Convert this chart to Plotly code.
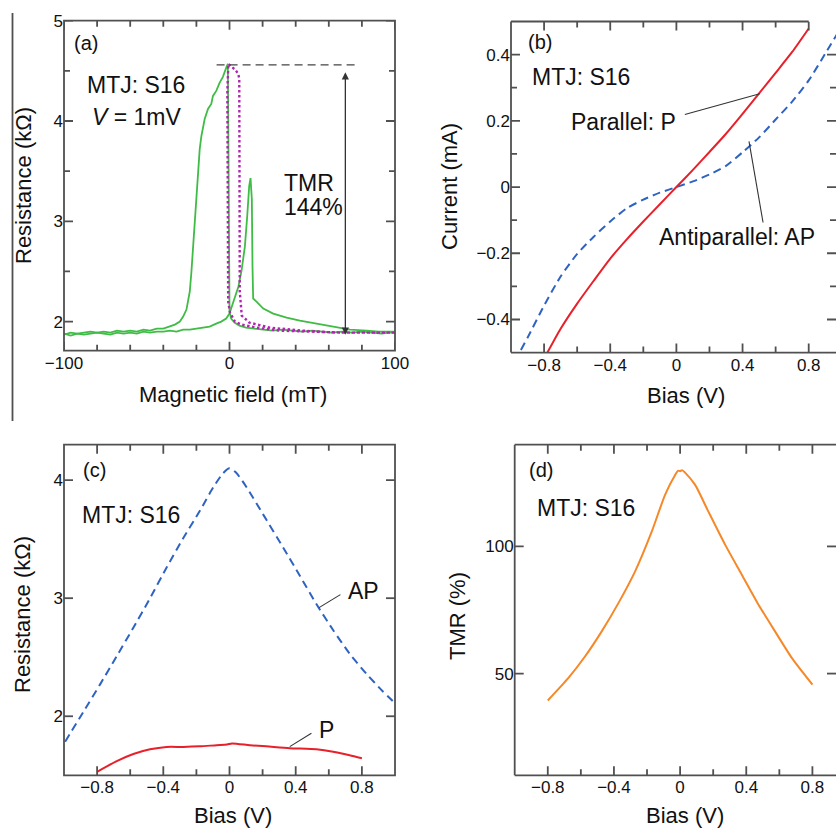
import numpy as np
import plotly.graph_objects as go

W, H = 836, 828
FONT = "Liberation Sans, Arial, Helvetica, sans-serif"
FRAME = "#505050"
INK = "#111111"

GREEN = "#3fbc45"
MAGENTA = "#b026b0"
RED = "#e8202a"
BLUE = "#2f63c2"
ORANGE = "#f5892a"

# ---- (a) R-H loop of MTJ S16 at V = 1 mV ----
field_up = [-100, -96, -92, -88, -84, -80, -76, -72, -68, -64, -60, -56, -52, -48, -44,
            -40, -36, -33, -30, -28, -26, -25, -24, -23, -22, -21, -20, -19, -18, -17,
            -15, -13, -11, -10, -8, -6, -4, -2, -1, -0.6, -0.3, 0, 1, 3, 6, 10, 15, 20,
            26, 32, 38, 44, 50, 56, 62, 68, 74, 80, 86, 92, 96, 100]
r_up = [1.87, 1.89, 1.88, 1.89, 1.90, 1.89, 1.90, 1.89, 1.91, 1.90, 1.91, 1.90, 1.92, 1.91, 1.93,
        1.93, 1.95, 1.97, 2.00, 2.05, 2.12, 2.20, 2.30, 2.50, 2.75, 3.00, 3.25, 3.50, 3.72, 3.85,
        4.02, 4.12, 4.17, 4.25, 4.30, 4.38, 4.44, 4.53, 4.57, 3.60, 2.60, 2.10, 2.03, 1.99, 1.96, 1.94, 1.93, 1.92,
        1.91, 1.92, 1.91, 1.90, 1.91, 1.90, 1.89, 1.90, 1.89, 1.90, 1.89, 1.88, 1.89, 1.89]

field_down = [-100, -96, -92, -88, -84, -80, -76, -72, -68, -64, -60, -56, -52, -48, -44,
              -40, -36, -32, -28, -24, -20, -16, -12, -8, -5, -2, 0, 2.4, 5.4, 7.3,
              9.3, 10.7, 11.9, 12.7, 13.5, 13.9, 14.3, 16.3, 20.4, 26.4, 34.5, 42.5, 52.6, 62.7,
              72.8, 82.9, 90, 100]
r_down = [1.88, 1.86, 1.88, 1.87, 1.88, 1.89, 1.88, 1.87, 1.89, 1.88, 1.89, 1.88, 1.90, 1.89, 1.90,
          1.90, 1.91, 1.90, 1.92, 1.92, 1.93, 1.94, 1.95, 1.98, 2.00, 2.03, 2.08, 2.20, 2.35, 2.51,
          2.75, 3.05, 3.35, 3.43, 3.22, 2.55, 2.23, 2.20, 2.13, 2.08, 2.04, 2.01, 1.98, 1.95,
          1.92, 1.91, 1.90, 1.90]

field_minor = [100, 85, 65, 44, 24.5, 12, 7.4, 6.2, 5.9, 5.9, 5.3, 3.5, 1.3, -0.7, -1.3, -1.2,
               -0.8, 0.3, 3.3, 7.4, 16.4, 30, 50, 70, 100]
r_minor = [1.89, 1.89, 1.89, 1.91, 1.94, 1.99, 2.06, 2.30, 3.50, 4.42, 4.47, 4.51, 4.54, 4.57, 4.30, 3.00,
           2.20, 2.09, 2.00, 1.97, 1.94, 1.91, 1.90, 1.89, 1.89]

r_ap_peak = 4.56   # kOhm, antiparallel level
r_p_base = 1.87    # kOhm, parallel level
arrow_field = 70   # mT
tmr_pct = round((r_ap_peak - r_p_base) / r_p_base * 100)

# ---- (b) I-V curves ----
bias_p = [-0.78, -0.7, -0.6, -0.5, -0.4, -0.3, -0.2, -0.1, 0, 0.1, 0.2, 0.3, 0.4, 0.5, 0.6, 0.7, 0.8]
current_p = [-0.500, -0.428, -0.352, -0.283, -0.216, -0.158, -0.104, -0.052, 0.0, 0.052, 0.106,
             0.161, 0.221, 0.283, 0.345, 0.408, 0.479]

bias_ap = [-0.94, -0.9, -0.8, -0.7, -0.6, -0.5, -0.4, -0.3, -0.2, -0.1, 0,
           0.1, 0.2, 0.3, 0.4, 0.5, 0.6, 0.7, 0.8, 0.9, 0.975]
current_ap = [-0.492, -0.455, -0.358, -0.270, -0.202, -0.150, -0.104, -0.064, -0.038, -0.017, 0.0,
              0.017, 0.038, 0.064, 0.105, 0.150, 0.204, 0.258, 0.322, 0.403, 0.465]

# ---- (c) R-V curves ----
bias_r_ap = [-0.993, -0.882, -0.782, -0.681, -0.581, -0.480, -0.380, -0.279, -0.179, -0.098, -0.038, 0,
             0.042, 0.103, 0.203, 0.324, 0.425, 0.525, 0.626, 0.726, 0.827, 0.927, 1.0]
res_ap = [1.785, 2.04, 2.27, 2.51, 2.75, 3.00, 3.26, 3.51, 3.74, 3.94, 4.06, 4.10,
          4.06, 3.94, 3.71, 3.43, 3.19, 2.95, 2.73, 2.53, 2.36, 2.21, 2.11]

bias_r_p = [-0.8, -0.681, -0.581, -0.480, -0.380, -0.279, -0.179, -0.078, -0.015, 0.015, 0.123,
            0.223, 0.364, 0.525, 0.626, 0.726, 0.8]
res_p = [1.53, 1.62, 1.68, 1.72, 1.74, 1.74, 1.745, 1.755, 1.76, 1.77, 1.755,
         1.745, 1.73, 1.72, 1.70, 1.67, 1.645]

# ---- (d) TMR vs bias ----
bias_tmr = [-0.8, -0.675, -0.574, -0.474, -0.373, -0.272, -0.171, -0.091, -0.030, -0.012, 0,
            0.012, 0.030, 0.091, 0.171, 0.272, 0.373, 0.474, 0.574, 0.675, 0.8]
tmr = [39.4, 48.3, 56.8, 66.6, 77.7, 90.2, 105.9, 120.3, 128.1, 129.8, 129.6,
       130.0, 129.0, 124.2, 113.7, 100.7, 88.9, 77.1, 66.6, 56.2, 45.7]


def fx(px):
    return px / W


def fy(py):
    return 1 - py / H


def steps(lo, hi, step):
    return [round(v, 6) for v in np.arange(lo, hi + step / 2, step)]


bias_major = steps(-0.8, 0.8, 0.4)
bias_minor = steps(-0.6, 0.6, 0.4)

# Panel frames in pixels (left, right, top, bottom), axis ranges and tick positions.
panels = {
    "a": dict(xa="x", ya="y", box=(64, 395, 20.7, 350.7), xr=[-100, 100], yr=[1.71, 5],
              xdt=100, ydt=1, xmaj=steps(-100, 100, 100),
              xmin=[v for v in steps(-80, 80, 20) if v != 0],
              ymaj=steps(2, 5, 1), ymin=steps(2.5, 4.5, 1)),
    "b": dict(xa="x2", ya="y2", box=(511, 836, 21.5, 352.6), xr=[-1, 0.965], yr=[-0.5, 0.5],
              xdt=0.4, ydt=0.2, xmaj=bias_major, xmin=bias_minor,
              ymaj=steps(-0.4, 0.4, 0.2), ymin=steps(-0.3, 0.3, 0.2)),
    "c": dict(xa="x3", ya="y3", box=(64, 395, 444.7, 775.3), xr=[-1, 1], yr=[1.5, 4.3],
              xdt=0.4, ydt=1, xmaj=bias_major, xmin=bias_minor,
              ymaj=steps(2, 4, 1), ymin=[]),
    "d": dict(xa="x4", ya="y4", box=(514.7, 836, 444.7, 775.3), xr=[-1, 0.9426], yr=[10, 140],
              xdt=0.4, ydt=50, xmaj=bias_major, xmin=bias_minor,
              ymaj=steps(50, 100, 50), ymin=[]),
}

fig = go.Figure()

fig.add_trace(go.Scatter(x=field_up, y=r_up, mode="lines", xaxis="x", yaxis="y",
                         line=dict(color=GREEN, width=1.8)))
fig.add_trace(go.Scatter(x=field_down, y=r_down, mode="lines", xaxis="x", yaxis="y",
                         line=dict(color=GREEN, width=1.8)))
fig.add_trace(go.Scatter(x=field_minor, y=r_minor, mode="lines", xaxis="x", yaxis="y",
                         line=dict(color=MAGENTA, width=2.4, dash="2.5px,2.5px")))

smooth = dict(shape="spline", smoothing=0.6)
fig.add_trace(go.Scatter(x=bias_ap, y=current_ap, mode="lines", xaxis="x2", yaxis="y2",
                         line=dict(color=BLUE, width=2, dash="8px,5px", **smooth)))
fig.add_trace(go.Scatter(x=bias_p, y=current_p, mode="lines", xaxis="x2", yaxis="y2",
                         line=dict(color=RED, width=2, **smooth)))

fig.add_trace(go.Scatter(x=bias_r_ap, y=res_ap, mode="lines", xaxis="x3", yaxis="y3",
                         line=dict(color=BLUE, width=2, dash="8px,5px", **smooth)))
fig.add_trace(go.Scatter(x=bias_r_p, y=res_p, mode="lines", xaxis="x3", yaxis="y3",
                         line=dict(color=RED, width=2, **smooth)))

fig.add_trace(go.Scatter(x=bias_tmr, y=tmr, mode="lines", xaxis="x4", yaxis="y4",
                         line=dict(color=ORANGE, width=2, **smooth)))

# Inward tick marks on all four sides, as one line trace per panel.
MAJOR_LEN, MINOR_LEN = 9, 6
for key, p in panels.items():
    left, right, top, bottom = p["box"]
    x0, x1 = p["xr"]
    y0, y1 = p["yr"]
    per_px_x = (x1 - x0) / (right - left)
    per_px_y = (y1 - y0) / (bottom - top)
    xs, ys = [], []
    for vals, length in ((p["xmaj"], MAJOR_LEN), (p["xmin"], MINOR_LEN)):
        dy = length * per_px_y
        for v in vals:
            xs += [v, v, None, v, v, None]
            ys += [y0, y0 + dy, None, y1, y1 - dy, None]
    for vals, length in ((p["ymaj"], MAJOR_LEN), (p["ymin"], MINOR_LEN)):
        dx = length * per_px_x
        for v in vals:
            xs += [x0, x0 + dx, None, x1, x1 - dx, None]
            ys += [v, v, None, v, v, None]
    fig.add_trace(go.Scatter(x=xs, y=ys, mode="lines", xaxis=p["xa"], yaxis=p["ya"],
                             line=dict(color=FRAME, width=1.8), hoverinfo="skip",
                             connectgaps=False, cliponaxis=False))

label_axis = dict(showgrid=False, zeroline=False, showline=False, ticks="", automargin=False,
                  tickfont=dict(size=17, color=INK, family=FONT), tickmode="linear", tick0=0)

axes = {}
for key, p in panels.items():
    left, right, top, bottom = p["box"]
    xname = "xaxis" + p["xa"][1:]
    yname = "yaxis" + p["ya"][1:]
    axes[xname] = dict(label_axis, domain=[fx(left), min(fx(right), 1)], range=p["xr"],
                       anchor=p["ya"], dtick=p["xdt"])
    axes[yname] = dict(label_axis, domain=[fy(bottom), fy(top)], range=p["yr"],
                       anchor=p["xa"], dtick=p["ydt"])

fig.update_layout(
    template="none",
    width=W, height=H, margin=dict(l=0, r=0, t=0, b=0, pad=0, autoexpand=False),
    paper_bgcolor="white", plot_bgcolor="rgba(0,0,0,0)", showlegend=False,
    font=dict(family=FONT, color=INK),
    **axes,
)

frame = dict(color=FRAME, width=1.8)


def edge(xref, yref, x0, y0, x1, y1):
    return dict(type="line", xref=xref, yref=yref, x0=x0, y0=y0, x1=x1, y1=y1, line=frame,
                layer="above")


shapes = [
    # divider to the left of the upper row
    edge("paper", "paper", fx(12.5), fy(13), fx(12.5), fy(421)),
    # full boxes round (a) and (c)
    dict(type="rect", xref="x domain", yref="y domain", x0=0, y0=0, x1=1, y1=1, line=frame),
    dict(type="rect", xref="x3 domain", yref="y3 domain", x0=0, y0=0, x1=1, y1=1, line=frame),
    # (b): left, bottom, and a top edge that stops at the last labelled bias
    edge("x2 domain", "y2 domain", 0, 0, 0, 1),
    edge("x2 domain", "y2 domain", 0, 0, 1, 0),
    edge("x2", "y2 domain", -1, 1, 0.8, 1),
    # (d): left, bottom, top
    edge("x4 domain", "y4 domain", 0, 0, 0, 1),
    edge("x4 domain", "y4 domain", 0, 0, 1, 0),
    edge("x4 domain", "y4 domain", 0, 1, 1, 1),
    # AP level in (a)
    dict(type="line", xref="x", yref="y", x0=-7.8, x1=78, y0=r_ap_peak, y1=r_ap_peak,
         line=dict(color="#444444", width=1.4, dash="8px,5px")),
    # leader lines
    dict(type="line", xref="x2", yref="y2", x0=0.051, y0=0.219, x1=0.504, y1=0.282,
         line=dict(color="#333333", width=1.1)),
    dict(type="line", xref="x2", yref="y2", x0=0.524, y0=-0.107, x1=0.439, y1=0.138,
         line=dict(color="#333333", width=1.1)),
    dict(type="line", xref="x3", yref="y3", x0=0.541, y0=2.92, x1=0.670, y1=3.03,
         line=dict(color="#333333", width=1.1)),
    dict(type="line", xref="x3", yref="y3", x0=0.364, y0=1.743, x1=0.495, y1=1.856,
         line=dict(color="#333333", width=1.1)),
]

ann = []


def text(px, py, s, size=23, anchor="left"):
    ann.append(dict(xref="paper", yref="paper", x=fx(px), y=fy(py), text=s, showarrow=False,
                    xanchor=anchor, yanchor="middle", font=dict(size=size, color=INK, family=FONT)))


def title(px, py, s, angle=0):
    ann.append(dict(xref="paper", yref="paper", x=fx(px), y=fy(py), text=s, showarrow=False,
                    xanchor="center", yanchor="middle", textangle=angle,
                    font=dict(size=22, color=INK, family=FONT)))


# panel (a)
text(72, 43, "(a)", 20)
text(85, 85, "MTJ: S16")
text(90, 117, "<i>V</i> = 1mV")
text(282, 183, "TMR")
text(282, 207, f"{tmr_pct}%")
title(233, 394, "Magnetic field (mT)")
title(23, 186, "Resistance (kΩ)", -90)

# panel (b)
text(526, 42, "(b)", 20)
text(530, 77, "MTJ: S16")
text(569, 122, "Parallel: P")
text(657, 237, "Antiparallel: AP")
title(686, 395, "Bias (V)")
title(449, 187, "Current (mA)", -90)

# panel (c)
text(81, 470, "(c)", 20)
text(80, 515, "MTJ: S16")
text(346, 591, "AP")
text(317, 730, "P")
title(233, 815, "Bias (V)")
title(22, 615, "Resistance (kΩ)", -90)

# panel (d)
text(527, 470, "(d)", 20)
text(535, 508, "MTJ: S16")
title(685, 815, "Bias (V)")
title(457, 616, "TMR (%)", -90)

# double-headed TMR arrow in (a)
ann.append(dict(xref="x", yref="y", axref="x", ayref="y", x=arrow_field, y=r_p_base,
                ax=arrow_field, ay=r_ap_peak, text="", showarrow=True, arrowhead=2,
                startarrowhead=2, arrowside="end+start", arrowsize=1.1, arrowwidth=1.3,
                arrowcolor="#333333", startstandoff=6))

fig.update_layout(shapes=shapes, annotations=ann)

fig.write_html("out.html")
